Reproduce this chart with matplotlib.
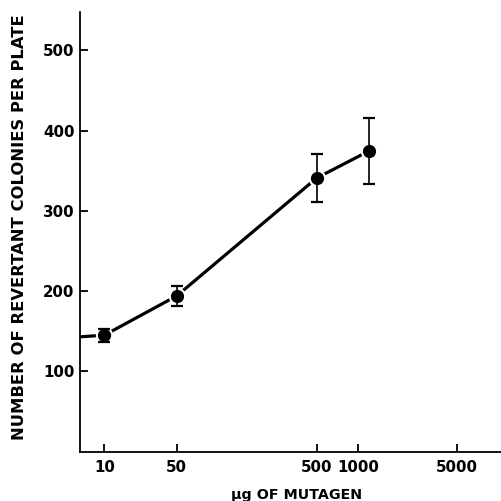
import numpy as np
import matplotlib
matplotlib.use("Agg")
import matplotlib.pyplot as plt

# ---- data ----
control_count = 143
doses = [10, 50, 500, 1200]
colonies = [145, 194, 341, 375]
errors = [8, 12, 30, 41]
x_ticks = [10, 50, 500, 1000, 5000]
y_ticks = [100, 200, 300, 400, 500]
x_label = "\u03bcg OF MUTAGEN"
y_label = "NUMBER OF REVERTANT COLONIES PER PLATE"

# ---- axis scale (irregular log-like axis of the original drawing) ----
x_min, x_max = 5, 10000
anchor_logs = np.log10([x_min, 10, 50, 500, 1000, 5000, x_max])
anchor_pos = np.array([0.0, 24.3, 96.7, 236.7, 278.3, 376.7, 422.0])

def fwd(x):
    x = np.clip(np.asarray(x, dtype=float), 1e-9, None)
    return np.interp(np.log10(x), anchor_logs, anchor_pos)

def inv(p):
    return 10 ** np.interp(np.asarray(p, dtype=float), anchor_pos, anchor_logs)

plt.rcParams['font.family'] = ['DejaVu Sans']
plt.rcParams['font.weight'] = 'bold'

fig = plt.figure(figsize=(5.02, 5.01), dpi=100)
ax = fig.add_axes([80 / 502, 49.5 / 501, 422 / 502, 439.5 / 501])
ax.set_xscale('function', functions=(fwd, inv))
ax.set_xlim(x_min, x_max)
ax.set_ylim(0, 548)

# control line from axis to first dose
ax.plot([x_min, doses[0]], [control_count, colonies[0]], color='black', lw=2.3,
        solid_capstyle='butt', zorder=1)
ax.plot(doses, colonies, color='black', lw=2.3, zorder=1)
# white halo markers to produce gaps
ax.plot(doses, colonies, 'o', ms=9, mfc='black', mec='white', mew=3.5, zorder=2)
ax.errorbar(doses, colonies, yerr=errors, fmt='none', ecolor='black',
            elinewidth=1.2, capsize=4.5, capthick=1.6, zorder=3)
ax.plot(doses, colonies, 'o', ms=8.5, color='black', zorder=4)

for s in ['top', 'right']:
    ax.spines[s].set_visible(False)
for s in ['left', 'bottom']:
    ax.spines[s].set_linewidth(1.3)

ax.set_xticks(x_ticks)
ax.set_xticklabels([str(t) for t in x_ticks])
ax.xaxis.set_minor_locator(matplotlib.ticker.NullLocator())
ax.set_yticks(y_ticks)
ax.tick_params(axis='both', direction='in', length=6, width=1.3,
               labelsize=10.8)
ax.tick_params(axis='y', pad=4)
ax.tick_params(axis='x', pad=6)
for lab in ax.get_xticklabels() + ax.get_yticklabels():
    lab.set_fontweight('bold')

ax.set_xlabel(x_label, fontsize=10.3, fontweight='bold')
ax.xaxis.set_label_coords((297 - 80) / 422, -36 / 439.5)
ax.set_ylabel(y_label, fontsize=11.8, fontweight='bold')
ax.yaxis.set_label_coords(-53 / 422, 0.51)

fig.savefig("out.png", dpi=100)
